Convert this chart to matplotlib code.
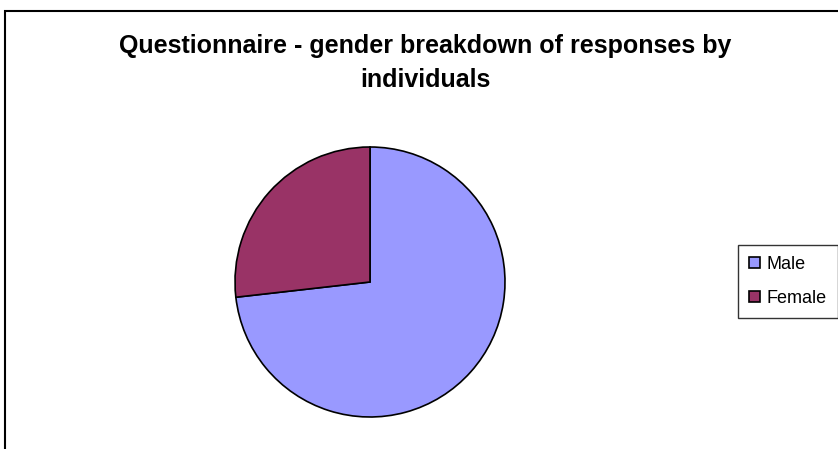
import matplotlib.pyplot as plt
from matplotlib.patches import Rectangle

# data
labels = ["Male", "Female"]
shares = [73.2, 26.8]
colors = ["#9999FF", "#993366"]
title = "Questionnaire - gender breakdown of responses by\nindividuals"

W, H = 838, 449
fig = plt.figure(figsize=(W / 100, H / 100), dpi=100)
plt.rcParams['font.family'] = ['Liberation Sans', 'DejaVu Sans']

# outer chart border (runs off the right/bottom edge)
fig.patches.append(Rectangle((5 / W, -0.1), 1.2, 1 - 11 / H + 0.1,
                             transform=fig.transFigure, fill=False,
                             edgecolor="black", linewidth=1.5))

# pie axes: centre (370, 282) px, radius 135 px
cx, cy, r = 370, H - 282, 135
ax = fig.add_axes([(cx - r) / W, (cy - r) / H, 2 * r / W, 2 * r / H])
wedges, _ = ax.pie(shares, colors=colors, startangle=90, counterclock=False,
                   radius=1, wedgeprops=dict(edgecolor="black", linewidth=1.2))
ax.set_xlim(-1, 1)
ax.set_ylim(-1, 1)
ax.axis("off")

fig.text(425 / W, 1 - 63 / H, title, ha="center", va="center",
         fontsize=18, fontweight="bold", linespacing=1.55)

leg = fig.legend(wedges, labels, loc="upper left",
                 bbox_to_anchor=(738 / W, 1 - 245 / H),
                 frameon=True, fancybox=False, fontsize=13,
                 handlelength=0.6, handleheight=0.6, handletextpad=0.4,
                 labelspacing=0.95, borderpad=0.6, borderaxespad=0)
leg.get_frame().set_edgecolor("black")
leg.get_frame().set_linewidth(1.0)

fig.savefig("out.png", dpi=100)
